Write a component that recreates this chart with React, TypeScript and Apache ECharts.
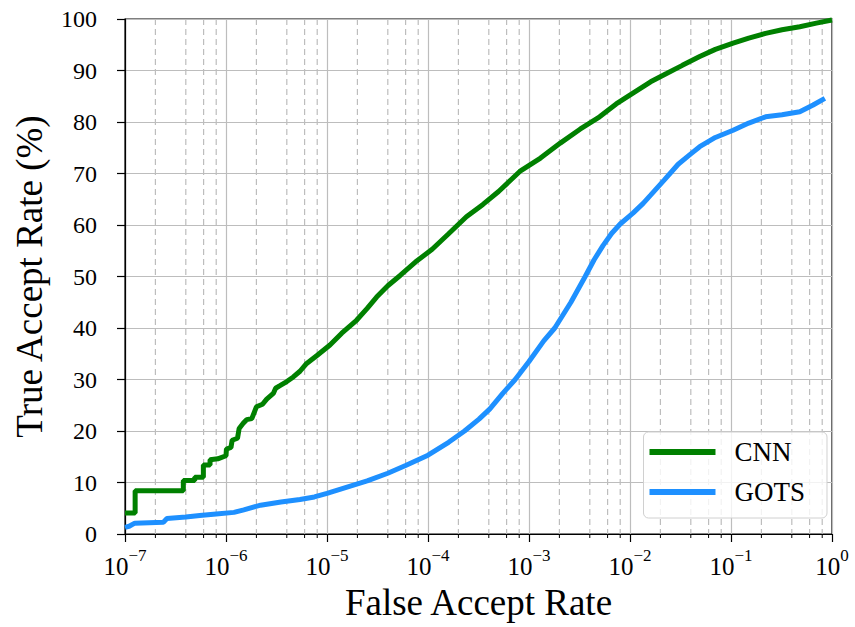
import React, { useEffect, useRef } from "react";
import * as echarts from "echarts";

const FONT = "Liberation Serif";

// False accept rate (x), true accept rate % (y)
const CNN_FAR = [
  1e-7, 1.26e-7, 1.26e-7, 3.78e-7, 3.78e-7, 4.9e-7, 4.9e-7, 5.97e-7, 5.97e-7, 6.95e-7, 6.95e-7, 8.3e-7,
  1.0e-6, 1.01e-6, 1.12e-6, 1.15e-6, 1.3e-6, 1.35e-6, 1.48e-6, 1.6e-6, 1.8e-6, 2.0e-6, 2.3e-6, 2.53e-6,
  2.94e-6, 3.1e-6, 3.42e-6, 4.0e-6, 4.64e-6, 5.4e-6, 6.2e-6, 7.9e-6, 1.07e-5, 1.4e-5, 1.96e-5, 2.5e-5,
  3.1e-5, 4.0e-5, 5.3e-5, 7.5e-5, 1.1e-4, 1.6e-4, 2.4e-4, 3.5e-4, 5.0e-4, 8.1e-4, 1.3e-3, 2.04e-3,
  3.2e-3, 5e-3, 7.3e-3, 1.07e-2, 1.6e-2, 2.3e-2, 3.3e-2, 4.9e-2, 7e-2, 1.05e-1, 1.5e-1, 2.2e-1,
  3.2e-1, 4.8e-1, 7e-1, 1,
];
const CNN_TAR = [
  4.1, 4.1, 8.4, 8.4, 10.4, 10.4, 11.0, 11.0, 13.4, 13.4, 14.4, 14.6,
  15.2, 16.5, 16.8, 18.2, 18.6, 20.5, 21.5, 22.2, 22.4, 24.7, 25.2, 26.2,
  27.3, 28.3, 28.8, 29.6, 30.5, 31.6, 33, 34.6, 36.7, 39, 41.5, 43.8,
  46, 48.2, 50.2, 52.8, 55.3, 58.3, 61.6, 64, 66.5, 70.4, 73, 75.9,
  78.6, 81, 83.5, 85.6, 87.8, 89.4, 91, 92.7, 94.1, 95.3, 96.3, 97.2,
  97.9, 98.5, 99.2, 99.8,
];

const GOTS_FAR = [
  1e-7, 1.1e-7, 1.25e-7, 2.4e-7, 2.6e-7, 4e-7, 5.5e-7, 8e-7, 1.2e-6, 1.5e-6, 2.2e-6, 3.5e-6,
  5.4e-6, 7.5e-6, 1e-5, 1.7e-5, 2.5e-5, 4e-5, 6e-5, 1e-4, 1.6e-4, 2.3e-4, 3.2e-4, 4.1e-4,
  5.5e-4, 7.3e-4, 1e-3, 1.4e-3, 1.8e-3, 2.6e-3, 3.6e-3, 4.4e-3, 5.4e-3, 6.6e-3, 8e-3, 1.07e-2,
  1.35e-2, 1.6e-2, 2.2e-2, 3e-2, 4e-2, 4.9e-2, 7e-2, 1.05e-1, 1.5e-1, 2.2e-1, 3.2e-1, 4.8e-1,
  6.5e-1, 8.5e-1,
];
const GOTS_TAR = [
  1.3, 1.5, 2.1, 2.3, 3.0, 3.3, 3.6, 3.9, 4.2, 4.7, 5.6, 6.2,
  6.7, 7.2, 7.9, 9.3, 10.3, 11.8, 13.3, 15.3, 17.8, 20, 22.3, 24.3,
  27.3, 30, 33.5, 37.5, 40, 45, 50, 53.2, 56, 58.4, 60.2, 62.3,
  64.2, 65.8, 68.8, 71.8, 73.8, 75.2, 77, 78.4, 79.8, 81, 81.4, 82,
  83.3, 84.6,
];

// Minor gridline / tick positions (2, 4, 6, 8 of each decade)
const DECADES = [1e-7, 1e-6, 1e-5, 1e-4, 1e-3, 1e-2, 1e-1];
const MINOR_MULTS = [2, 4, 6, 8];
const Y_TICKS_STEP = 10;

const SERIES_NAMES = ["CNN", "GOTS"];
const X_TITLE = "False Accept Rate";
const Y_TITLE = "True Accept Rate (%)";

export default function App() {
  const ref = useRef<HTMLDivElement>(null);

  useEffect(() => {
    if (!ref.current) return;
    const chart = echarts.init(ref.current, null, { renderer: "svg" });

    const cnn = CNN_FAR.map((x, i) => [x, CNN_TAR[i]]);
    const gots = GOTS_FAR.map((x, i) => [x, GOTS_TAR[i]]);
    const minor: number[][] = [];
    DECADES.forEach((d) => MINOR_MULTS.forEach((m) => minor.push([d * m, 0])));

    const supMinus = (e: number) => (e < 0 ? "\u2212" + -e : String(e));

    chart.setOption({
      animation: false,
      grid: {
        left: 125,
        right: 23,
        top: 19,
        bottom: 93,
        show: true,
        borderColor: "#000",
        borderWidth: 1.2,
        backgroundColor: "transparent",
      },
      legend: {
        data: SERIES_NAMES,
        orient: "vertical",
        right: 28,
        top: 432,
        icon: "rect",
        itemWidth: 66,
        itemHeight: 6,
        itemGap: 12,
        padding: [6, 22, 12, 6],
        backgroundColor: "rgba(255,255,255,0.8)",
        borderColor: "#d0d0d0",
        borderWidth: 1,
        borderRadius: 5,
        textStyle: {
          fontFamily: FONT,
          fontSize: 27,
          color: "#000",
          lineHeight: 28,
          padding: [0, 0, 0, 14],
        },
      },
      xAxis: {
        type: "log",
        logBase: 10,
        min: 1e-7,
        max: 1,
        interval: 1,
        splitNumber: 7,
        name: X_TITLE,
        nameLocation: "middle",
        nameGap: 45,
        nameTextStyle: { fontFamily: FONT, fontSize: 37, color: "#000" },
        axisLine: { show: true, lineStyle: { color: "#000", width: 1.2 } },
        axisTick: { show: true, inside: false, length: 8, lineStyle: { color: "#000", width: 1.2 } },
        splitLine: { show: true, lineStyle: { color: "#bdbdbd", width: 1.2, type: "solid" } },
        axisLabel: {
          margin: 13,
          formatter: (v: number) => {
            const e = Math.round(Math.log10(v));
            return "{b|10}{s|" + supMinus(e) + "}";
          },
          rich: {
            b: { fontFamily: FONT, fontSize: 25, color: "#000", lineHeight: 32, verticalAlign: "bottom" },
            s: { fontFamily: FONT, fontSize: 17, color: "#000", lineHeight: 18, verticalAlign: "top" },
          },
        },
      },
      yAxis: {
        type: "value",
        min: 0,
        max: 100,
        interval: Y_TICKS_STEP,
        name: Y_TITLE,
        nameLocation: "middle",
        nameRotate: 90,
        nameGap: 77,
        nameTextStyle: { fontFamily: FONT, fontSize: 37, color: "#000" },
        axisLine: { show: true, lineStyle: { color: "#000", width: 1.2 } },
        axisTick: { show: true, inside: false, length: 8, lineStyle: { color: "#000", width: 1.2 } },
        splitLine: { show: true, lineStyle: { color: "#bdbdbd", width: 1.2, type: "solid" } },
        axisLabel: { margin: 28, fontFamily: FONT, fontSize: 24, color: "#000" },
      },
      series: [
        {
          type: "custom",
          name: "minor",
          data: minor,
          clip: false,
          silent: true,
          z: 1,
          renderItem: (params: any, api: any) => {
            const x = api.value(0);
            const pb = api.coord([x, 0]);
            const pt = api.coord([x, 100]);
            return {
              type: "group",
              children: [
                {
                  type: "line",
                  shape: { x1: pb[0], y1: pt[1], x2: pb[0], y2: pb[1] },
                  style: { stroke: "#bdbdbd", lineWidth: 1.2, lineDash: [6, 4] },
                },
                {
                  type: "line",
                  shape: { x1: pb[0], y1: pb[1], x2: pb[0], y2: pb[1] + 4 },
                  style: { stroke: "#000", lineWidth: 1 },
                },
              ],
            };
          },
        },
        {
          name: SERIES_NAMES[0],
          type: "line",
          data: cnn,
          showSymbol: false,
          z: 3,
          lineStyle: { color: "#008000", width: 5 },
          itemStyle: { color: "#008000" },
        },
        {
          name: SERIES_NAMES[1],
          type: "line",
          data: gots,
          showSymbol: false,
          z: 3,
          lineStyle: { color: "#1E90FF", width: 5 },
          itemStyle: { color: "#1E90FF" },
        },
      ],
    });

    return () => chart.dispose();
  }, []);

  return (
    <div
      ref={ref}
      style={{ position: "fixed", left: 0, top: 0, width: 855, height: 627, background: "#fff" }}
    />
  );
}
